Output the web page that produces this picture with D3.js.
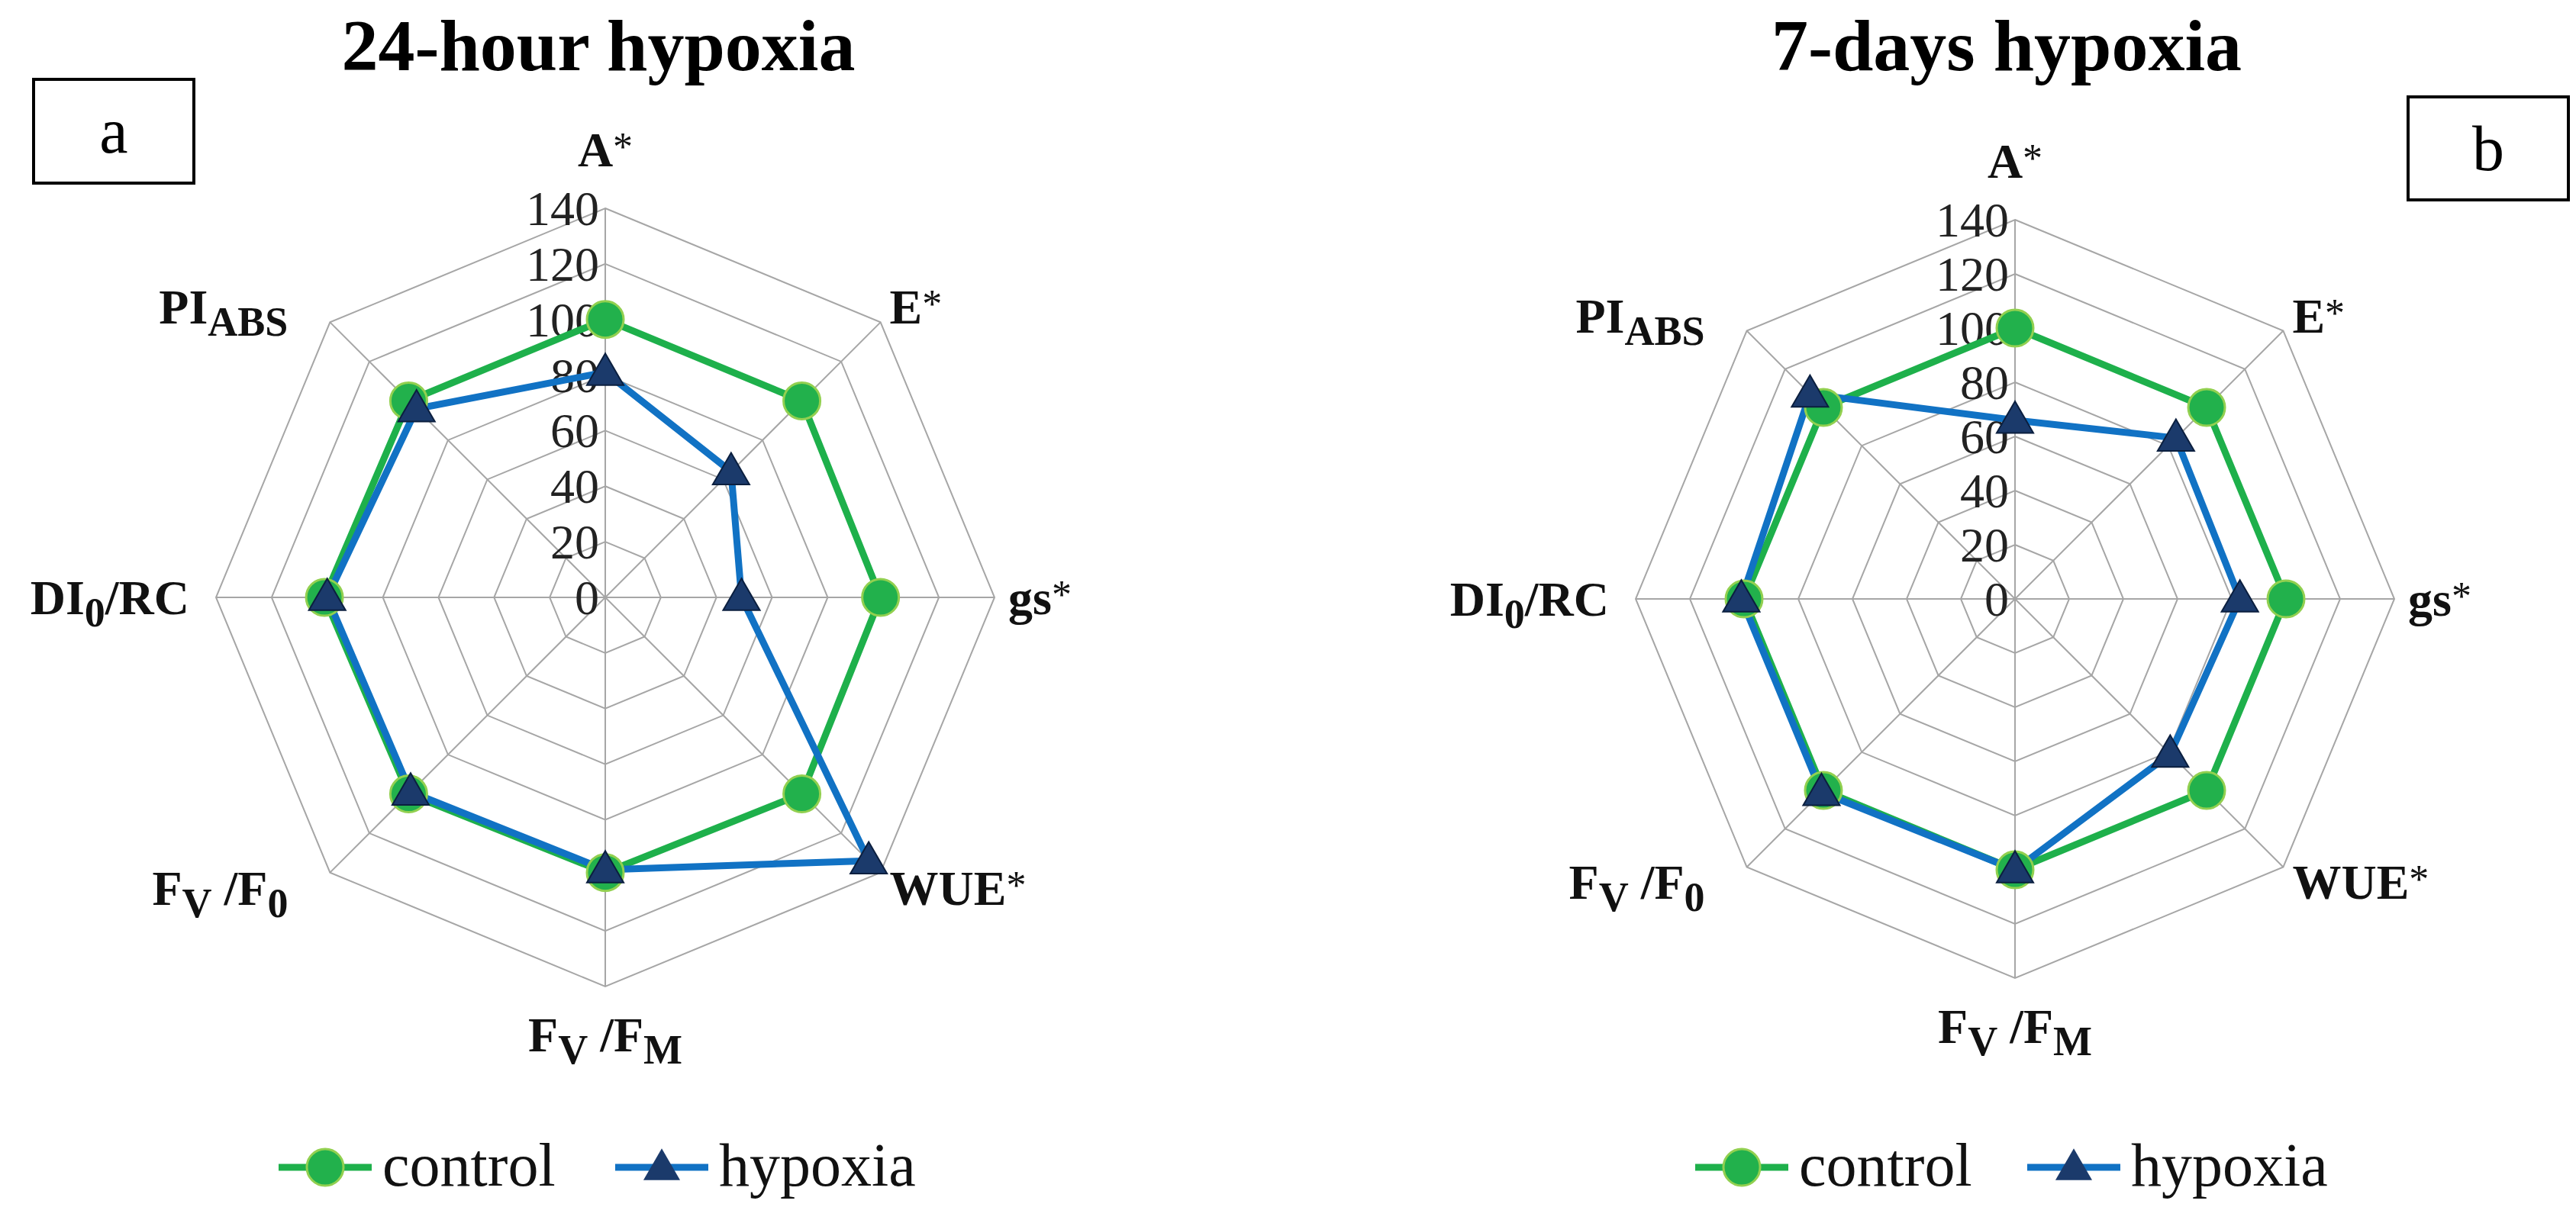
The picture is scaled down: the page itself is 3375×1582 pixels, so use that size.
<!DOCTYPE html>
<html><head><meta charset="utf-8">
<script src="https://cdn.jsdelivr.net/npm/d3@7"></script>
<style>body{margin:0;background:#fff}</style></head>
<body><svg id="c" width="3375" height="1582"></svg>
<script>
const axesLabels = ["A*","E*","gs*","WUE*","FV/FM","FV/F0","DI0/RC","PIABS"];
const ticks = [0,20,40,60,80,100,120,140];
const control24 = [100,100,99,100,99,100,101,100];
const hypoxia24 = [81,64,49,134,98,99,100,96];
const control7 = [100,100,100,100,100,100,100,100];
const hypoxia7 = [66,84,83,81,100,101,101,107];
const titles = ["24-hour hypoxia","7-days hypoxia"];
const letters = ["a","b"];

const svg = d3.select("#c");
const font = "'Liberation Serif', 'DejaVu Serif', serif";
const green = "#1EB04B", blue = "#1172C4", navy = "#1B3A6B";

function labelParts(l){
  if(l==="FV/FM") return [["F"],["V",1],[" /F"],["M",1]];
  if(l==="FV/F0") return [["F"],["V",1],[" /F"],["0",1]];
  if(l==="DI0/RC") return [["DI"],["0",1],["/RC"]];
  if(l==="PIABS") return [["PI"],["ABS",1]];
  if(l.endsWith("*")) return [[l.slice(0,-1)],["*",2]];
  return [[l]];
}

function panel(cx, cy, R, ctrl, hyp, title, titleX, letter, box, leg){
  const g = svg.append("g");
  const r = d3.scaleLinear().domain([0,140]).range([0,R]);
  const ang = i => -Math.PI/2 + i*Math.PI/4;
  const pt = (i,v)=>[cx+r(v)*Math.cos(ang(i)), cy+r(v)*Math.sin(ang(i))];
  const line = d3.line();
  ticks.slice(1).forEach(t=>{
    g.append("path").attr("d", line(d3.range(8).map(i=>pt(i,t)))+"Z")
     .attr("fill","none").attr("stroke","#a6a6a6").attr("stroke-width",2);
  });
  d3.range(8).forEach(i=>{
    const [x,y]=pt(i,140);
    g.append("line").attr("x1",cx).attr("y1",cy).attr("x2",x).attr("y2",y)
     .attr("stroke","#a6a6a6").attr("stroke-width",2);
  });
  ticks.forEach(t=>{
    g.append("text").attr("x",cx-8).attr("y",cy-r(t)+22).attr("text-anchor","end")
     .attr("font-family",font).attr("font-size",64).attr("fill","#222").text(t);
  });
  axesLabels.forEach((l,i)=>{
    const [x,y]=pt(i,140);
    const c=Math.cos(ang(i)), s=Math.sin(ang(i));
    let lx, ly, anchor;
    if(Math.abs(c)<0.01){ anchor="middle"; lx=x; ly = s<0 ? y-55 : y+85; }
    else if(Math.abs(s)<0.01){ anchor = c>0?"start":"end"; lx = x + (c>0?18:-35); ly=y+22; }
    else { anchor = c>0?"start":"end"; lx = x + (c>0?12:-55); ly = s<0 ? y+2 : y+42; }
    const t=g.append("text").attr("x",lx).attr("y",ly).attr("text-anchor",anchor)
      .attr("font-family",font).attr("font-size",64).attr("font-weight","bold").attr("fill","#111");
    labelParts(l).forEach(p=>{
      const ts=t.append("tspan").text(p[0]);
      if(p[1]===1) ts.attr("baseline-shift","-30%").attr("font-size",54);
      if(p[1]===2) ts.attr("font-weight","normal").attr("baseline-shift","15%").attr("font-size",52);
    });
  });
  const series=[{v:ctrl,c:green,m:"circle"},{v:hyp,c:blue,m:"tri"}];
  series.forEach(se=>{
    g.append("path").attr("d", line(se.v.map((v,i)=>pt(i,v)))+"Z")
      .attr("fill","none").attr("stroke",se.c).attr("stroke-width",9).attr("stroke-linejoin","round");
  });
  series.forEach(se=>{
    se.v.forEach((v,i)=>{
      const [x,y]=pt(i,v);
      if(se.m==="circle") g.append("circle").attr("cx",x).attr("cy",y).attr("r",24)
        .attr("fill","#22B14C").attr("stroke","#92D050").attr("stroke-width",3);
      else g.append("path").attr("transform",`translate(${x},${y+3})`)
        .attr("d",d3.symbol(d3.symbolTriangle,1000)()).attr("fill",navy).attr("stroke","#0b1f3f").attr("stroke-width",2);
    });
  });
  g.append("text").attr("x",titleX).attr("y",92).attr("text-anchor","middle")
    .attr("font-family",font).attr("font-size",96).attr("font-weight","bold").attr("fill","#000").text(title);
  g.append("rect").attr("x",box[0]).attr("y",box[1]).attr("width",box[2]).attr("height",box[3])
    .attr("fill","none").attr("stroke","#000").attr("stroke-width",4);
  g.append("text").attr("x",box[0]+box[2]/2).attr("y",box[1]+box[3]/2+28).attr("text-anchor","middle")
    .attr("font-family",font).attr("font-size",84).attr("fill","#000").text(letter);
  const ly=1530;
  [[leg[0],green,"circle","control"],[leg[1],blue,"tri","hypoxia"]].forEach(([x0,c,m,name])=>{
    g.append("line").attr("x1",x0).attr("x2",x0+122).attr("y1",ly).attr("y2",ly).attr("stroke",c).attr("stroke-width",9);
    if(m==="circle") g.append("circle").attr("cx",x0+61).attr("cy",ly).attr("r",24).attr("fill","#22B14C").attr("stroke","#92D050").attr("stroke-width",3);
    else g.append("path").attr("transform",`translate(${x0+61},${ly+3})`).attr("d",d3.symbol(d3.symbolTriangle,1000)()).attr("fill",navy);
    g.append("text").attr("x",x0+136).attr("y",ly+24).attr("font-family",font).attr("font-size",80).attr("fill","#111").text(name);
  });
}
panel(793,783,510,control24,hypoxia24,titles[0],784,letters[0],[44,104,210,136],[365,806]);
panel(2640,785,497,control7,hypoxia7,titles[1],2629,letters[1],[3155,127,210,135],[2221,2656]);
</script></body></html>
